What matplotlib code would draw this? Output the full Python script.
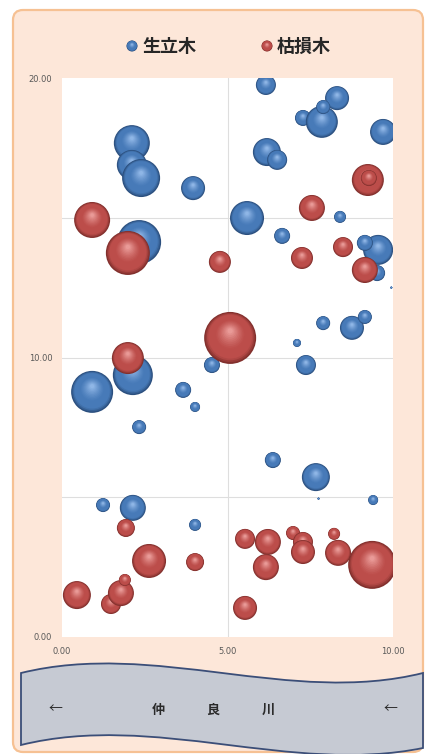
import numpy as np
import matplotlib.pyplot as plt
from matplotlib.patches import FancyBboxPatch, PathPatch
from matplotlib.path import Path
from matplotlib.colors import to_rgb
from matplotlib.ticker import StrMethodFormatter

plt.rcParams['font.family'] = ['Noto Sans CJK JP', 'DejaVu Sans']

W, H = 425, 754

# 生立木
live_x = [6.16, 8.31, 7.28, 7.85, 7.89, 9.70, 2.11, 2.11, 2.39, 3.96, 6.19, 6.50,
          5.59, 6.65, 8.40, 2.33, 9.52, 9.55, 9.15, 0.91, 2.14, 4.53, 3.66, 4.02,
          2.33, 7.10, 7.37, 8.76, 9.15, 7.89, 6.37, 7.67, 9.40, 1.24, 2.14, 4.02,
          9.95, 7.75]
live_y = [19.75, 19.28, 18.57, 18.43, 18.96, 18.07, 17.67, 16.89, 16.42, 16.06, 17.35, 17.07,
          14.99, 14.35, 15.03, 14.13, 13.02, 13.85, 14.10, 8.77, 9.37, 9.73, 8.84, 8.23,
          7.51, 10.52, 9.73, 11.06, 11.45, 11.23, 6.33, 5.72, 4.90, 4.72, 4.62, 4.01,
          12.50, 4.95]
live_size = [20, 24, 16, 32, 14, 26, 36, 30, 38, 24, 28, 20,
             34, 16, 12, 44, 16, 30, 16, 42, 40, 16, 16, 10,
             14, 8, 20, 24, 14, 14, 16, 28, 10, 14, 26, 12,
             2, 2]

# 枯損木
dead_x = [9.24, 9.27, 0.91, 1.99, 7.55, 4.77, 7.25, 8.49, 9.15, 5.08, 1.99,
          1.93, 2.63, 4.02, 0.45, 1.48, 1.78, 1.90, 5.53, 6.22, 6.16, 6.98,
          7.28, 7.28, 8.22, 8.34, 9.37, 5.53]
dead_y = [16.35, 16.42, 14.92, 13.74, 15.35, 13.42, 13.56, 13.95, 13.13, 10.70, 9.98,
          3.90, 2.72, 2.68, 1.50, 1.18, 1.57, 2.04, 3.51, 3.40, 2.50, 3.72,
          3.40, 3.04, 3.69, 3.01, 2.58, 1.04]
dead_size = [32, 16, 36, 44, 26, 22, 22, 20, 26, 52, 32,
             18, 34, 18, 28, 20, 26, 12, 20, 26, 26, 14,
             20, 24, 12, 26, 48, 24]

legend_labels = ['生立木', '枯損木']
river_label = ['仲', '良', '川']

BLUE = ('#2b4f7e', '#477ab8', '#8fb6e6')
RED = ('#82302d', '#bc4d4a', '#e99a97')


def sphere(ax, x, y, r, cols, z, up):
    n = 18
    f = np.linspace(1.0, 0.1, n)
    t = np.linspace(0, 1, n)
    dark, mid, light = (np.array(to_rgb(c)) for c in cols)
    colors = []
    for v in t:
        if v < 0.15:
            colors.append(dark + (mid - dark) * (v / 0.15))
        elif v < 0.45:
            colors.append(mid)
        else:
            colors.append(mid + (light - mid) * ((v - 0.45) / 0.55) ** 1.3)
    ys = y + (1 - f) * r * 0.3 * up
    ax.scatter(np.full(n, x), ys, s=(2 * r * f * 0.72) ** 2, c=colors,
               linewidths=0, zorder=z)


fig = plt.figure(figsize=(W / 100, H / 100), dpi=100)

# background: frame and river
bg = fig.add_axes([0, 0, 1, 1])
bg.set_xlim(0, W)
bg.set_ylim(0, H)
bg.axis('off')
bg.add_patch(FancyBboxPatch((13, H - 752), 410, 742,
                            boxstyle='round,pad=0,rounding_size=10',
                            facecolor='#fde7d9', edgecolor='#f6c193', lw=1.6))

verts = [(21, 673), (155, 640), (290, 706), (423, 673),
         (423, 748),
         (290, 775), (155, 712), (21, 745),
         (21, 673)]
codes = [Path.MOVETO, Path.CURVE4, Path.CURVE4, Path.CURVE4,
         Path.LINETO,
         Path.CURVE4, Path.CURVE4, Path.CURVE4,
         Path.CLOSEPOLY]
verts = [(vx, H - vy) for vx, vy in verts]
bg.add_patch(PathPatch(Path(verts, codes), facecolor='#c6cad3',
                       edgecolor='#3b4e78', lw=1.3))
for cx, ch in zip([158, 213, 268], river_label):
    bg.text(cx, H - 710, ch, fontsize=9.5, fontweight='bold', ha='center',
            va='center', color='#2a2a2a')
bg.text(55, H - 709, '←', fontsize=10, ha='center', va='center', color='#2a2a2a')
bg.text(390, H - 709, '←', fontsize=10, ha='center', va='center', color='#2a2a2a')

# legend
for lx, lab, cols in zip([132, 267], legend_labels, [BLUE, RED]):
    sphere(bg, lx, H - 46, 5.5, cols, 3, 1.0)
    bg.text(lx + 10, H - 46, lab, fontsize=13, fontweight='bold', ha='left',
            va='center', color='#262626')

# bubble chart
ax = fig.add_axes([62 / W, (H - 637) / H, 331 / W, 559 / H])
ax.set_facecolor('white')
ax.set_xlim(0, 10)
ax.set_ylim(0, 20)
for s in ax.spines.values():
    s.set_visible(False)
ax.axvline(5, color='#dedede', lw=0.8, zorder=0)
for gy in [5, 10, 15]:
    ax.axhline(gy, color='#dedede', lw=0.8, zorder=0)
ax.set_xticks([0, 5, 10])
ax.set_yticks([0, 10, 20])
ax.xaxis.set_major_formatter(StrMethodFormatter('{x:.2f}'))
ax.yaxis.set_major_formatter(StrMethodFormatter('{x:.2f}'))
ax.tick_params(length=0, labelsize=6, colors='#595959', pad=7)
for lab in ax.get_xticklabels() + ax.get_yticklabels():
    lab.set_family('DejaVu Sans')

up = 20 / 559.0  # data units per pixel (vertical)
z = 2
for x, y, d in zip(live_x, live_y, live_size):
    sphere(ax, x, y, d / 2, BLUE, z, up)
    z += 1
for x, y, d in zip(dead_x, dead_y, dead_size):
    sphere(ax, x, y, d / 2, RED, z, up)
    z += 1

fig.savefig('out.png', dpi=100)
